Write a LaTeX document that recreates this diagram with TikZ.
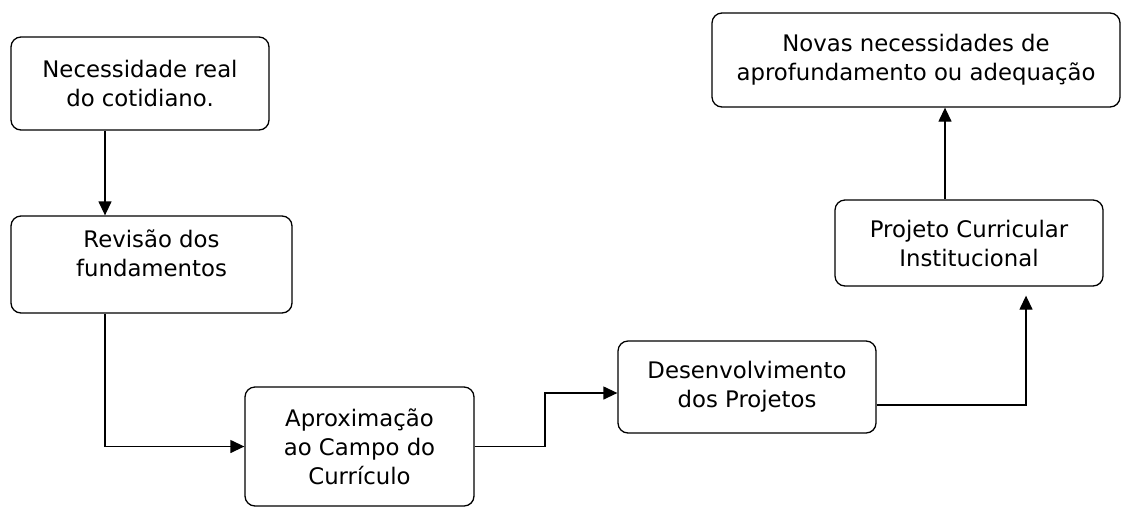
\documentclass[tikz,border=0pt]{standalone}
\usepackage{fontspec}
\setmainfont{DejaVu Sans}
\usetikzlibrary{arrows.meta}
\begin{document}
\begin{tikzpicture}[x=1pt,y=-1pt,
  box/.style={draw, rounded corners=10pt, line width=1.3pt, align=center, inner sep=0pt,
    font=\fontsize{22.8}{29}\selectfont},
  arr/.style={-{Triangle[length=14pt,width=13pt]}, line width=1.3pt}]
\useasboundingbox (0,0) rectangle (1123,507);
\node[box, minimum width=258pt, minimum height=93pt] (n1) at (140,83.5) {Necessidade real\\do cotidiano.};
\node[box, minimum width=281pt, minimum height=97pt, text depth=23pt] (n2) at (151.5,264.5) {Revisão dos\\fundamentos};
\node[box, minimum width=229pt, minimum height=119pt] (n3) at (359.5,446.5) {Aproximação\\ao Campo do\\Currículo};
\node[box, minimum width=258pt, minimum height=92pt] (n4) at (747,387) {Desenvolvimento\\dos Projetos};
\node[box, minimum width=268pt, minimum height=86pt] (n5) at (969,243) {Projeto Curricular\\Institucional};
\node[box, minimum width=408pt, minimum height=94pt] (n6) at (916,60) {Novas necessidades de\\aprofundamento ou adequação};
\draw[arr] (105,0 |- n1.south) -- (105,0 |- n2.north);
\draw[arr] (105,0 |- n2.south) |- (n3.west);
\draw[arr] (n3.east) -- (545,0 |- n3.east) |- (n4.west |- 0,393);
\draw[arr, shorten >=9pt] (n4.east |- 0,405) -| (1026,0 |- n5.south);
\draw[arr] (945,0 |- n5.north) -- (945,0 |- n6.south);
\end{tikzpicture}
\end{document}
